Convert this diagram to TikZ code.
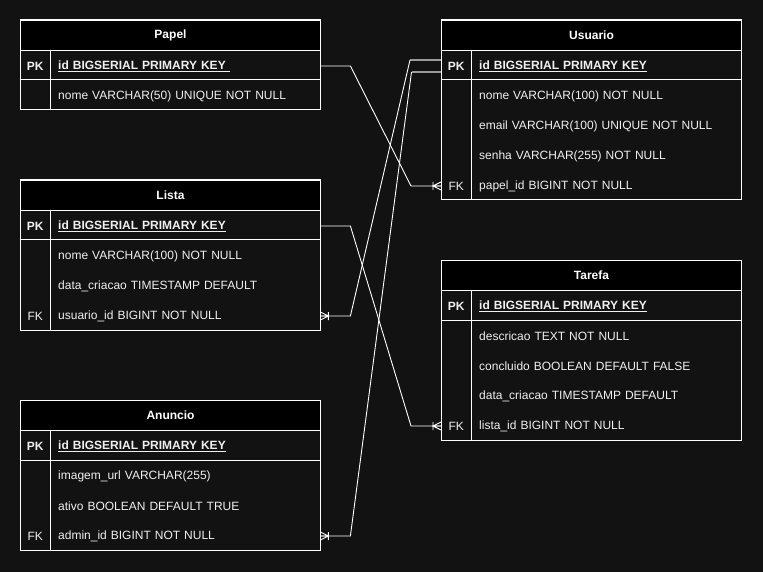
\documentclass[tikz,border=0pt]{standalone}
\usepackage{fontspec}
\setmainfont{Liberation Sans}
\definecolor{bg}{HTML}{121212}
\definecolor{fg}{HTML}{F0F0F0}
\definecolor{hl}{HTML}{9A9A9A}
\newcommand\tsz{\fontsize{12pt}{14pt}\selectfont}
\tikzset{
  tbl/.style={draw=white, line width=1pt},
  hdr/.style={draw=white, fill=black, text=white, font=\tsz\bfseries, minimum width=300pt, minimum height=30pt, anchor=north west, inner sep=0pt, line width=1pt},
  keyc/.style={text=fg, font=\tsz, minimum width=30pt, minimum height=30pt, inner sep=0pt, anchor=west, yshift=-1pt},
  keyb/.style={keyc, font=\tsz\bfseries},
  fld/.style={text=fg, font=\tsz, anchor=west, minimum height=30pt, inner xsep=8pt, inner ysep=0pt, text width=254pt, align=left, yshift=-1pt},
  fldb/.style={fld, font=\tsz\bfseries},
  conn/.style={draw=white, line width=0.9pt},
  hlc/.style={draw=hl, line width=1.6pt},
  crowfoot/.pic={\draw[conn] (0,-4) -- (-8,0) -- (0,4) (-8,0) -- (0,0) (-8,-4) -- (-8,4);}
}
\begin{document}
\begin{tikzpicture}[x=1pt,y=-1pt]
\fill[bg] (0,0) rectangle (763,572);
\useasboundingbox (0,0) rectangle (763,572);

% ---------- Papel ----------
\draw[tbl] (20,20) rectangle (320,110);
\node[hdr] (pH) at (20,20) {Papel};
\draw[tbl] (20,80) -- (320,80) (50,50) -- (50,110);
\node[keyb] (pK1) at (20,65) {PK};
\node[fldb] (pF1) at (50,65) {\underline{id BIGSERIAL PRIMARY KEY\ }};
\node[fld] (pF2) at (50,95) {nome VARCHAR(50) UNIQUE NOT NULL};

% ---------- Usuario ----------
\draw[tbl] (441,20) rectangle (741,200);
\node[hdr] (uH) at (441,20) {Usuario};
\draw[tbl] (441,80) -- (741,80) (471,50) -- (471,200);
\node[keyb] (uK1) at (441,65) {PK};
\node[fldb] (uF1) at (471,65) {\underline{id BIGSERIAL PRIMARY KEY}};
\node[fld] (uF2) at (471,95) {nome VARCHAR(100) NOT NULL};
\node[fld] (uF3) at (471,125) {email VARCHAR(100) UNIQUE NOT NULL};
\node[fld] (uF4) at (471,155) {senha VARCHAR(255) NOT NULL};
\node[keyc] (uK5) at (441,185) {FK};
\node[fld] (uF5) at (471,185) {papel\_id BIGINT NOT NULL};

% ---------- Lista ----------
\draw[tbl] (20,180) rectangle (320,330);
\node[hdr] (lH) at (20,180) {Lista};
\draw[tbl] (20,240) -- (320,240) (50,210) -- (50,330);
\node[keyb] (lK1) at (20,225) {PK};
\node[fldb] (lF1) at (50,225) {\underline{id BIGSERIAL PRIMARY KEY}};
\node[fld] (lF2) at (50,255) {nome VARCHAR(100) NOT NULL};
\node[fld] (lF3) at (50,285) {data\_criacao TIMESTAMP DEFAULT};
\node[keyc] (lK4) at (20,315) {FK};
\node[fld] (lF4) at (50,315) {usuario\_id BIGINT NOT NULL};

% ---------- Anuncio ----------
\draw[tbl] (20,400) rectangle (320,550);
\node[hdr] (aH) at (20,400) {Anuncio};
\draw[tbl] (20,460) -- (320,460) (50,430) -- (50,550);
\node[keyb] (aK1) at (20,445) {PK};
\node[fldb] (aF1) at (50,445) {\underline{id BIGSERIAL PRIMARY KEY}};
\node[fld] (aF2) at (50,475) {imagem\_url VARCHAR(255)};
\node[fld] (aF3) at (50,505) {ativo BOOLEAN DEFAULT TRUE};
\node[keyc] (aK4) at (20,535) {FK};
\node[fld] (aF4) at (50,535) {admin\_id BIGINT NOT NULL};

% ---------- Tarefa ----------
\draw[tbl] (441,260) rectangle (741,440);
\node[hdr] (tH) at (441,260) {Tarefa};
\draw[tbl] (441,320) -- (741,320) (471,290) -- (471,440);
\node[keyb] (tK1) at (441,305) {PK};
\node[fldb] (tF1) at (471,305) {\underline{id BIGSERIAL PRIMARY KEY}};
\node[fld] (tF2) at (471,335) {descricao TEXT NOT NULL};
\node[fld] (tF3) at (471,365) {concluido BOOLEAN DEFAULT FALSE};
\node[fld] (tF4) at (471,395) {data\_criacao TIMESTAMP DEFAULT};
\node[keyc] (tK5) at (441,425) {FK};
\node[fld] (tF5) at (471,425) {lista\_id BIGINT NOT NULL};

% ---------- Connectors ----------
% Papel.id -> Usuario.papel_id
\draw[conn] (pF1.east) -- ++(30,0) -- ([xshift=-30pt]uK5.west) -- (uK5.west);
\pic at (uK5.west) {crowfoot};

% Usuario.id -> Lista.usuario_id
\draw[hlc] ([yshift=6pt]uK1.west) -- ++(-31,0) coordinate (c2);
\draw[conn] (c2) -- ([xshift=30pt]lF4.east) -- (lF4.east);
\pic[xscale=-1] at (lF4.east) {crowfoot};

% Usuario.id -> Anuncio.admin_id
\draw[hlc] ([yshift=-6pt]uK1.west) -- ++(-29.5,0) coordinate (c3);
\draw[conn] (c3) -- ([xshift=30pt]aF4.east) -- (aF4.east);
\pic[xscale=-1] at (aF4.east) {crowfoot};

% Lista.id -> Tarefa.lista_id
\draw[conn] (lF1.east) -- ++(30,0) -- ([xshift=-30pt]tK5.west) -- (tK5.west);
\pic at (tK5.west) {crowfoot};
\end{tikzpicture}
\end{document}
